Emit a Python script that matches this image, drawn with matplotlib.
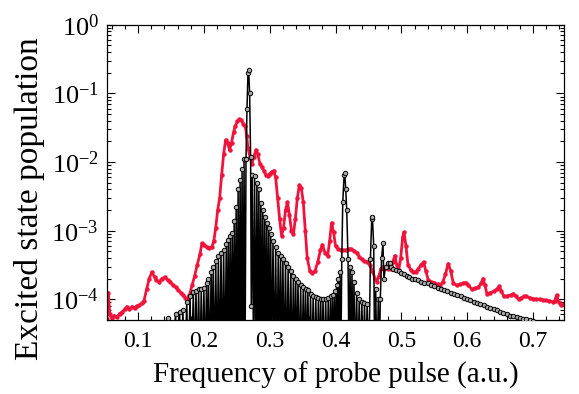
import numpy as np
import matplotlib.pyplot as plt
from matplotlib.ticker import MultipleLocator, LogLocator, LogFormatterMathtext, NullFormatter

plt.rcParams['font.family'] = ['Liberation Serif', 'DejaVu Serif']
plt.rcParams['mathtext.fontset'] = 'stix'

# red curve
red_x = [0.053, 0.055, 0.057, 0.060, 0.064, 0.068, 0.072, 0.076, 0.080, 0.083,
         0.087, 0.091, 0.095, 0.098, 0.102, 0.106, 0.109, 0.113, 0.117, 0.121,
         0.125, 0.128, 0.132, 0.136, 0.141, 0.145, 0.149, 0.153, 0.157, 0.161,
         0.165, 0.169, 0.172, 0.175, 0.178, 0.182, 0.186, 0.190, 0.194, 0.197,
         0.200, 0.204, 0.208, 0.212, 0.215, 0.218, 0.221, 0.224, 0.227, 0.230,
         0.233, 0.236, 0.239, 0.242, 0.245, 0.248, 0.251, 0.254, 0.257, 0.260,
         0.263, 0.265, 0.267, 0.270, 0.273, 0.276, 0.279, 0.282, 0.285, 0.288,
         0.291, 0.294, 0.297, 0.300, 0.303, 0.306, 0.309, 0.312, 0.315, 0.318,
         0.321, 0.324, 0.327, 0.330, 0.333, 0.336, 0.339, 0.342, 0.345, 0.348,
         0.351, 0.354, 0.357, 0.361, 0.365, 0.369, 0.373, 0.377, 0.380, 0.384,
         0.388, 0.391, 0.394, 0.397, 0.400, 0.404, 0.408, 0.412, 0.416, 0.420,
         0.424, 0.428, 0.432, 0.436, 0.440, 0.444, 0.448, 0.452, 0.456, 0.460,
         0.463, 0.466, 0.469, 0.472, 0.476, 0.480, 0.484, 0.487, 0.490, 0.493,
         0.496, 0.499, 0.502, 0.504, 0.507, 0.510, 0.514, 0.518, 0.522, 0.526,
         0.530, 0.534, 0.537, 0.541, 0.545, 0.550, 0.555, 0.559, 0.563, 0.567,
         0.571, 0.575, 0.579, 0.584, 0.589, 0.594, 0.598, 0.602, 0.607, 0.612,
         0.617, 0.621, 0.624, 0.627, 0.630, 0.635, 0.640, 0.645, 0.649, 0.652,
         0.656, 0.661, 0.666, 0.670, 0.674, 0.678, 0.682, 0.686, 0.690, 0.695,
         0.700, 0.705, 0.710, 0.715, 0.720, 0.725, 0.730, 0.733, 0.736, 0.739,
         0.742, 0.747]
red_y = [5.2e-5, 1.25e-4, 6e-5, 5.3e-5, 5.8e-5, 5.5e-5, 6.2e-5, 6.5e-5, 7.2e-5, 7.8e-5,
         7.2e-5, 7.8e-5, 7.5e-5, 8e-5, 8.2e-5, 8.8e-5, 9.5e-5, 1.4e-4, 2e-4, 2.5e-4,
         2.1e-4, 1.9e-4, 1.8e-4, 2e-4, 2.1e-4, 1.9e-4, 1.8e-4, 1.6e-4, 1.5e-4, 1.35e-4,
         1.25e-4, 1.15e-4, 1.05e-4, 1.0e-4, 1.15e-4, 1.6e-4, 2.2e-4, 3.2e-4, 4.5e-4, 6.5e-4,
         6.2e-4, 5.8e-4, 5.6e-4, 5.8e-4, 7e-4, 1.1e-3, 2e-3, 3e-3, 6.5e-3, 0.013,
         0.021, 0.019, 0.015, 0.019, 0.027, 0.034, 0.039, 0.042, 0.041, 0.036,
         0.033, 0.024, 0.016, 0.012, 0.0095, 0.012, 0.015, 0.013, 0.0095, 0.0085,
         0.0075, 0.0065, 0.0062, 0.0068, 0.0072, 0.0075, 0.006, 0.003, 0.0015, 8.5e-4,
         1.1e-3, 2e-3, 2.6e-3, 1.7e-3, 1e-3, 8.8e-4, 1.5e-3, 3e-3, 4.6e-3, 4.2e-3,
         2.6e-3, 1e-3, 4e-4, 2.6e-4, 2.4e-4, 2.6e-4, 3.5e-4, 5.2e-4, 6.2e-4, 4.8e-4,
         4.3e-4, 7e-4, 1.3e-3, 9.5e-4, 6e-4, 5.4e-4, 5.3e-4, 5.2e-4, 5.2e-4, 5.4e-4,
         5.4e-4, 5.1e-4, 4.8e-4, 4.2e-4, 3.8e-4, 3.6e-4, 3.5e-4, 3.2e-4, 2.6e-4, 2e-4,
         1.8e-4, 2.2e-4, 2.8e-4, 3e-4, 2.9e-4, 2.8e-4, 2.8e-4, 3.5e-4, 4.3e-4, 3.2e-4,
         2.7e-4, 4e-4, 8e-4, 9.5e-4, 6e-4, 3.2e-4, 2.7e-4, 2.5e-4, 2.5e-4, 2.8e-4,
         3.2e-4, 3.5e-4, 2.6e-4, 1.9e-4, 1.8e-4, 1.75e-4, 1.65e-4, 1.6e-4, 1.8e-4, 2.3e-4,
         3.3e-4, 2.6e-4, 1.7e-4, 1.6e-4, 1.65e-4, 1.7e-4, 1.75e-4, 1.6e-4, 1.4e-4, 1.45e-4,
         1.5e-4, 1.7e-4, 2e-4, 1.6e-4, 1.2e-4, 1.25e-4, 1.3e-4, 1.4e-4, 1.55e-4, 1.3e-4,
         1.1e-4, 1.12e-4, 1.15e-4, 1.2e-4, 1.1e-4, 1e-4, 1.05e-4, 1.1e-4, 1.1e-4, 1.05e-4,
         1.02e-4, 1e-4, 1e-4, 9.8e-5, 9.6e-5, 9.5e-5, 9.2e-5, 9.5e-5, 1.15e-4, 9e-5,
         8.2e-5, 8.4e-5]

# black curve (tops of the teeth and troughs, in order)
blk_x = [0.140, 0.145, 0.150, 0.157, 0.160, 0.163, 0.166, 0.168, 0.171, 0.174,
         0.176, 0.179, 0.181, 0.184, 0.186, 0.188, 0.190, 0.192, 0.194, 0.196,
         0.198, 0.200, 0.202, 0.204, 0.2055, 0.207, 0.209, 0.211, 0.2125, 0.214,
         0.216, 0.218, 0.220, 0.222, 0.224, 0.226, 0.228, 0.230, 0.232, 0.234,
         0.2355, 0.237, 0.2385, 0.240, 0.2415, 0.243, 0.2445, 0.246, 0.2475, 0.249,
         0.2505, 0.252, 0.2535, 0.255, 0.2565, 0.258, 0.2595, 0.261, 0.2625, 0.264,
         0.2655, 0.267, 0.268, 0.2695, 0.271, 0.272, 0.2735, 0.2755, 0.277, 0.279,
         0.2805, 0.282, 0.2835, 0.285, 0.2865, 0.288, 0.2895, 0.291, 0.2925, 0.294,
         0.2955, 0.297, 0.2985, 0.300, 0.3015, 0.303, 0.305, 0.307, 0.309, 0.311,
         0.313, 0.315, 0.3165, 0.318, 0.320, 0.322, 0.324, 0.326, 0.328, 0.330,
         0.332, 0.334, 0.336, 0.338, 0.3395, 0.341, 0.343, 0.345, 0.347, 0.349,
         0.351, 0.353, 0.3545, 0.356, 0.358, 0.360, 0.362, 0.364, 0.366, 0.368,
         0.370, 0.372, 0.374, 0.376, 0.3775, 0.379, 0.381, 0.383, 0.385, 0.387,
         0.389, 0.391, 0.3925, 0.394, 0.3955, 0.397, 0.3985, 0.400, 0.4015, 0.403,
         0.404, 0.405, 0.4065, 0.408, 0.4095, 0.411, 0.413, 0.414, 0.4155, 0.417,
         0.419, 0.4205, 0.422, 0.4235, 0.425, 0.4265, 0.428, 0.430, 0.432, 0.434,
         0.436, 0.438, 0.440, 0.442, 0.444, 0.446, 0.448, 0.4505, 0.453, 0.455,
         0.456, 0.458, 0.4595, 0.461, 0.463, 0.465, 0.4665, 0.468, 0.470, 0.472,
         0.4735, 0.476, 0.479, 0.482, 0.485, 0.488, 0.492, 0.496, 0.500, 0.504,
         0.508, 0.512, 0.516, 0.520, 0.525, 0.530, 0.535, 0.540, 0.545, 0.550,
         0.555, 0.560, 0.565, 0.570, 0.575, 0.580, 0.585, 0.590, 0.595, 0.600,
         0.605, 0.610, 0.615, 0.620, 0.625, 0.630, 0.635, 0.640, 0.645, 0.650,
         0.655, 0.660, 0.665, 0.670, 0.675, 0.680, 0.685, 0.690, 0.695, 0.700]
blk_y = [1e-5, 5.3e-5, 1e-5, 6e-5, 1e-5, 6.5e-5, 1e-5, 7e-5, 1e-5, 9e-5,
         1e-5, 1.1e-4, 1e-5, 1.26e-4, 1e-5, 1.3e-4, 1e-5, 1.4e-4, 1e-5, 1.4e-4,
         1e-5, 1.45e-4, 1e-5, 1.7e-4, 1e-5, 1.95e-4, 1e-5, 2.5e-4, 1e-5, 3e-4,
         1e-5, 3.6e-4, 1e-5, 4.3e-4, 1e-5, 4.8e-4, 1e-5, 5.3e-4, 1e-5, 6.3e-4,
         1e-5, 7.4e-4, 1e-5, 8.5e-4, 1e-5, 9.4e-4, 1e-5, 1.4e-3, 1e-5, 2.2e-3,
         1e-5, 4e-3, 1e-5, 5.5e-3, 1e-5, 7.8e-3, 1e-5, 0.011, 1e-5, 0.011,
         0.06, 0.2, 0.22, 0.1, 0.012, 8e-5, 6.5e-3, 1e-5, 6.2e-3, 1e-5,
         5e-3, 1e-5, 4e-3, 1e-5, 2.5e-3, 1e-5, 2e-3, 1e-5, 1.6e-3, 1e-5,
         1.3e-3, 1e-5, 1.1e-3, 1e-5, 9e-4, 1e-5, 7e-4, 1e-5, 5.8e-4, 1e-5,
         4.8e-4, 1e-5, 4.3e-4, 1e-5, 3.9e-4, 1e-5, 3.4e-4, 1e-5, 3e-4, 1e-5,
         2.6e-4, 1e-5, 2.2e-4, 1e-5, 2e-4, 1e-5, 1.8e-4, 1e-5, 1.6e-4, 1e-5,
         1.5e-4, 1e-5, 1.4e-4, 1e-5, 1.35e-4, 1e-5, 1.2e-4, 1e-5, 1.1e-4, 1e-5,
         1.07e-4, 1e-5, 1.05e-4, 1e-5, 1e-4, 1e-5, 1e-4, 1e-5, 1.02e-4, 1e-5,
         1.05e-4, 1e-5, 1.1e-4, 1e-5, 1.15e-4, 1e-5, 1.3e-4, 1e-5, 1.6e-4, 1e-5,
         2e-4, 1e-5, 2.5e-4, 1e-5, 3.9e-4, 2.6e-3, 6.5e-3, 7e-3, 4e-3, 2e-3,
         3.9e-4, 1e-5, 3e-4, 1e-5, 2.5e-4, 1e-5, 1.8e-4, 1e-5, 1.25e-4, 1e-5,
         1e-4, 1e-5, 9e-5, 1e-5, 8.8e-5, 1e-5, 8.6e-5, 1e-5, 3.9e-4, 1.5e-3,
         1.6e-3, 6e-4, 1e-5, 1.4e-4, 1e-5, 1e-4, 1e-5, 1e-4, 4e-4, 6.5e-4,
         2e-4, 3e-4, 3.4e-4, 3.4e-4, 3e-4, 2.8e-4, 2.7e-4, 2.6e-4, 2.4e-4, 2.3e-4,
         2.2e-4, 2.1e-4, 2e-4, 2e-4, 1.9e-4, 1.8e-4, 1.75e-4, 1.7e-4, 1.6e-4, 1.55e-4,
         1.45e-4, 1.4e-4, 1.35e-4, 1.3e-4, 1.25e-4, 1.2e-4, 1.15e-4, 1.1e-4, 1.05e-4, 1e-4,
         9.6e-5, 9.2e-5, 8.8e-5, 8.5e-5, 8.2e-5, 7.8e-5, 7.5e-5, 7.2e-5, 6.9e-5, 6.6e-5,
         6.3e-5, 6e-5, 5.8e-5, 5.7e-5, 5.5e-5, 5.4e-5, 5.2e-5, 5.1e-5, 5e-5, 4.8e-5]

fig = plt.figure(figsize=(5.79, 3.94), dpi=100)
ax = fig.add_axes([0.185, 0.188, 0.789, 0.749])

ax.plot(red_x, red_y, color='#f0143c', lw=2.0, marker='o', ms=2.2, mec='#f0143c', zorder=2)
ax.plot(blk_x, blk_y, color='black', lw=1.1, marker='o', ms=3.2, mfc='#aaaaaa',
        mec='black', mew=0.7, zorder=3)

ax.set_yscale('log')
ax.set_xlim(0.053, 0.747)
ax.set_ylim(5e-5, 1)
ax.xaxis.set_major_locator(MultipleLocator(0.1))
ax.xaxis.set_minor_locator(MultipleLocator(0.02))
ax.yaxis.set_major_locator(LogLocator(base=10, numticks=10))
ax.yaxis.set_minor_locator(LogLocator(base=10, subs=np.arange(2, 10), numticks=10))
ax.yaxis.set_major_formatter(LogFormatterMathtext())
ax.yaxis.set_minor_formatter(NullFormatter())
ax.tick_params(which='both', direction='in', top=True, right=True, width=0.8)
ax.tick_params(which='major', length=6)
ax.tick_params(which='minor', length=3)
ax.tick_params(axis='x', labelsize=17, pad=8)
ax.tick_params(axis='y', labelsize=19, pad=6)
for s in ax.spines.values():
    s.set_linewidth(0.9)

ax.set_xlabel('Frequency of probe pulse (a.u.)', fontsize=21)
ax.set_ylabel('Excited state population', fontsize=24)
ax.xaxis.set_label_coords(0.5, -0.14)
ax.yaxis.set_label_coords(-0.135, 0.41)

fig.savefig('out.png', dpi=100)
